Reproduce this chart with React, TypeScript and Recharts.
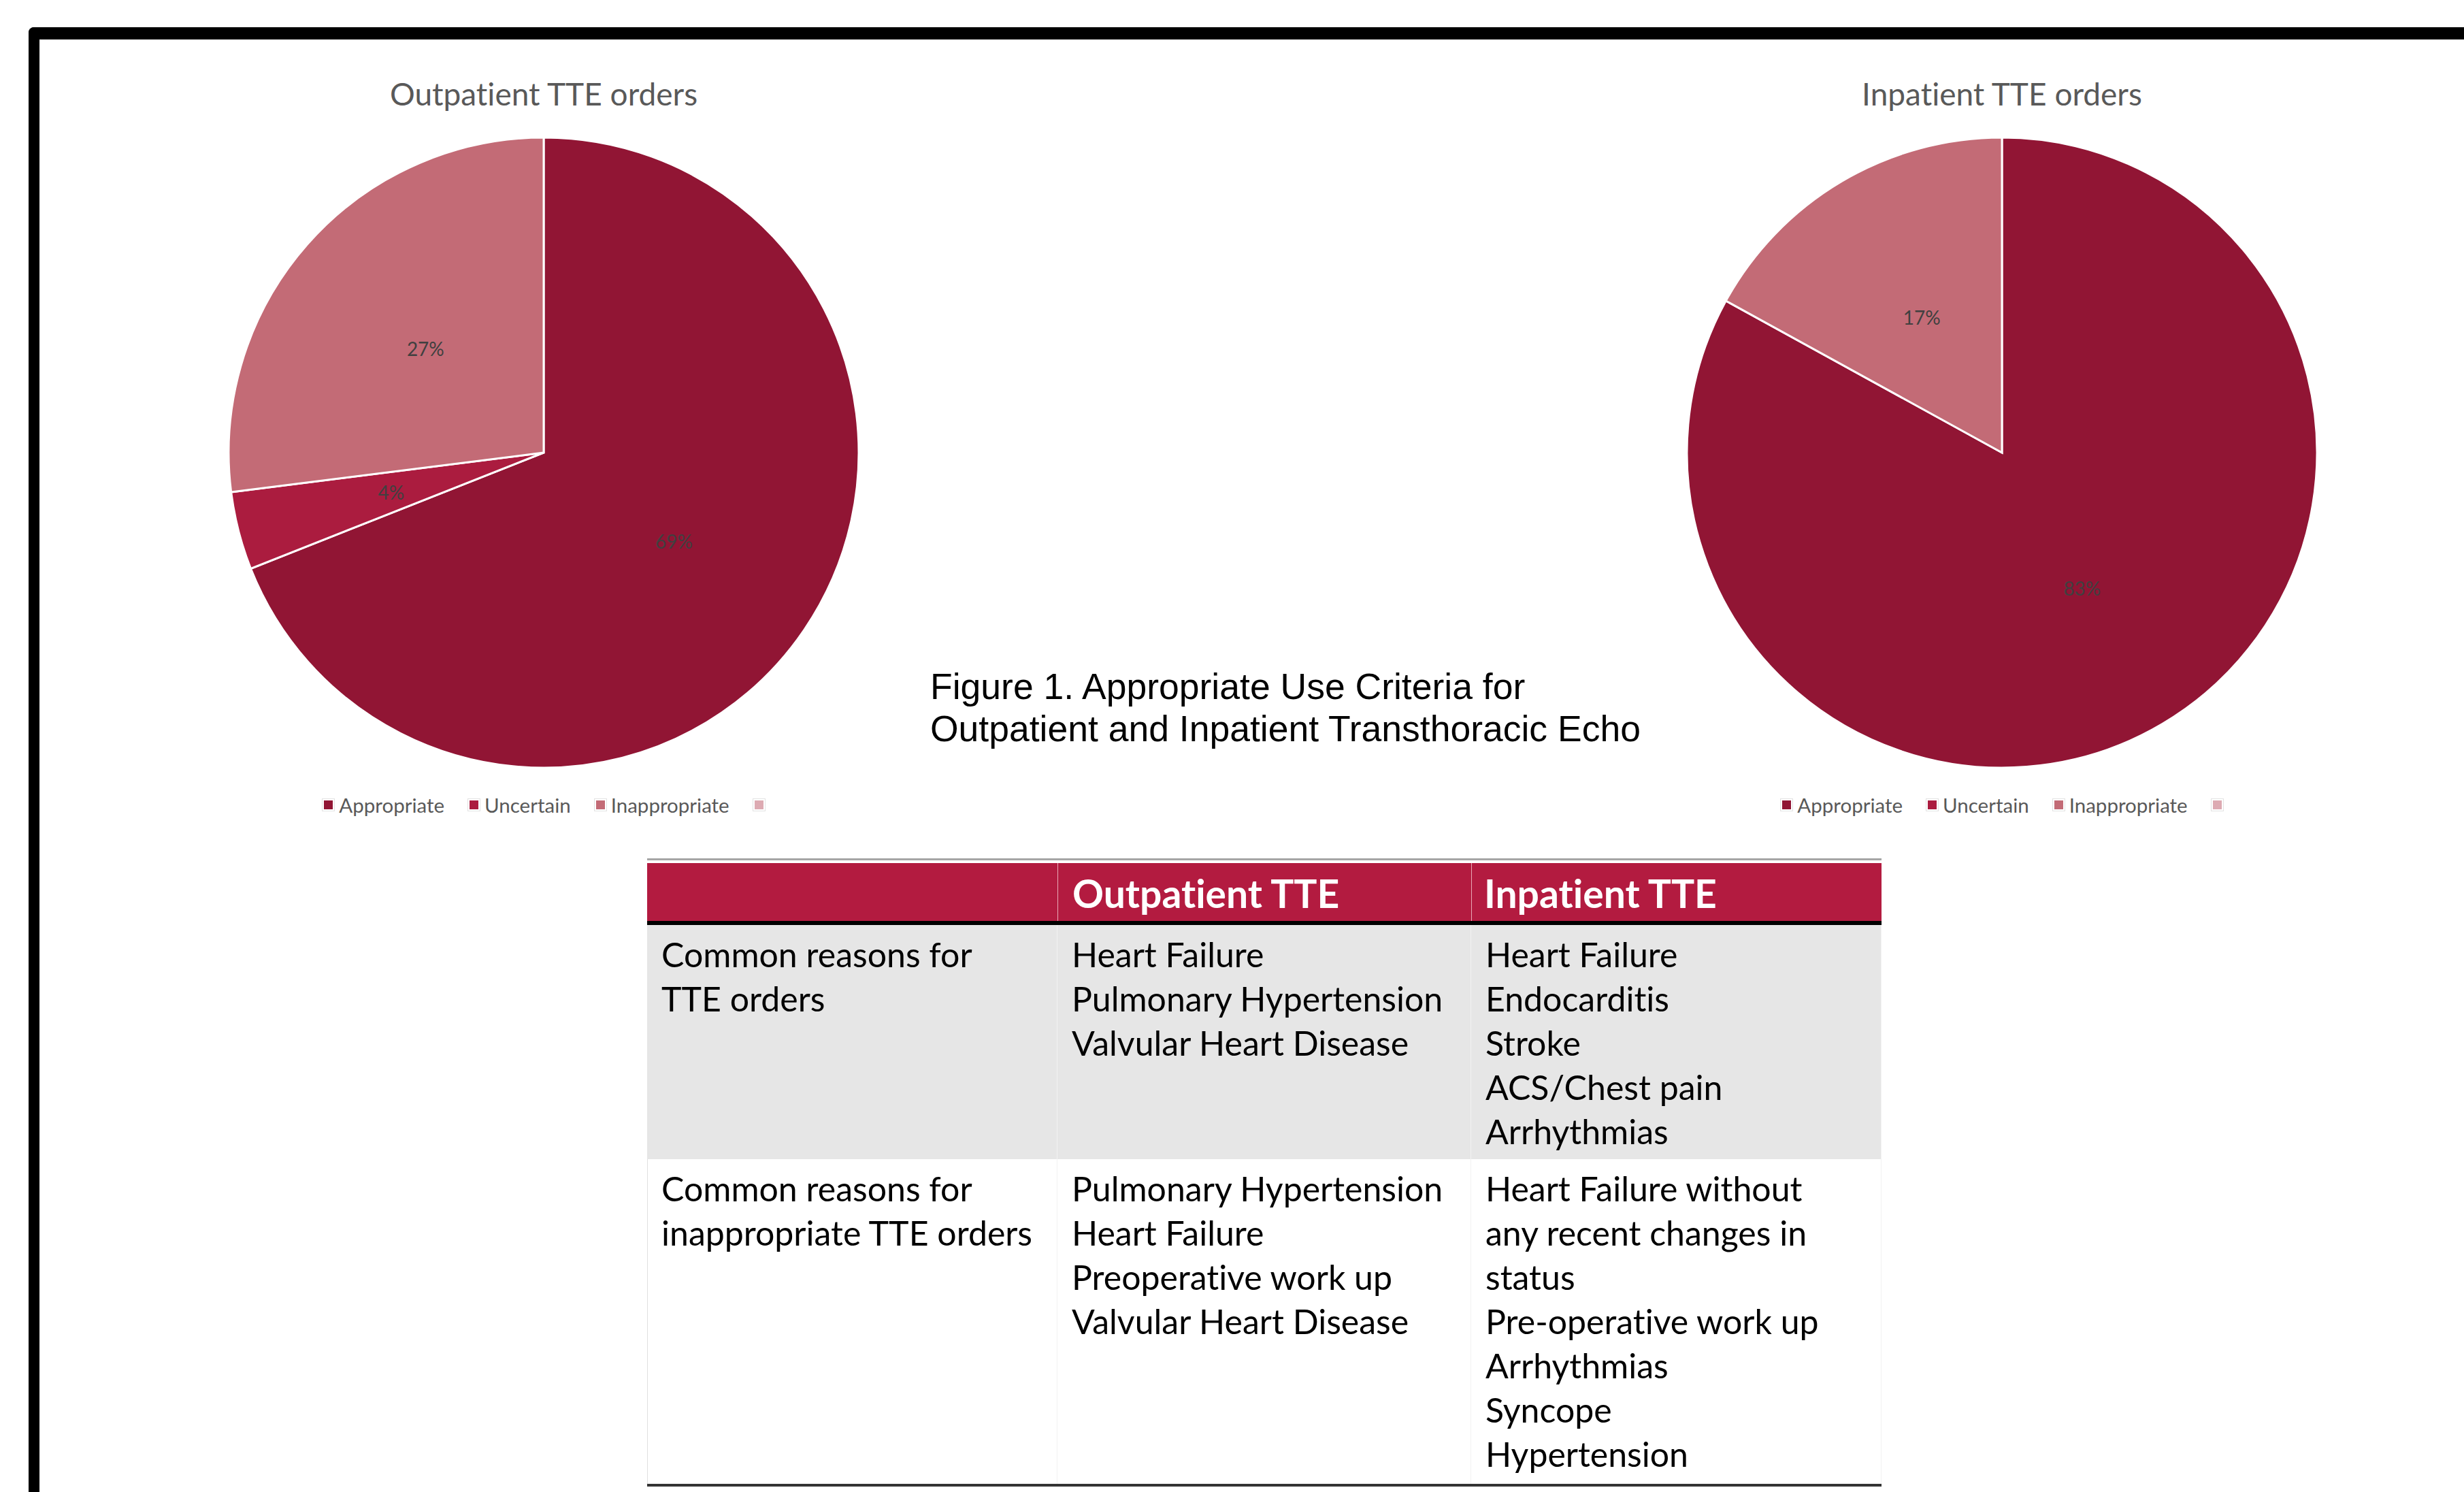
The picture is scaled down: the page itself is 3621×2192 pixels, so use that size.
import { Cell, Legend, Pie, PieChart } from "recharts";

// pie data (share of TTE orders, %)
const categories = ["Appropriate", "Uncertain", "Inappropriate", ""];
const outpatientValues = [69, 4, 27, 0];
const inpatientValues = [83, 0, 17, 0];
const sliceColors = ["#911534", "#AB1C3F", "#C36B76", "#DDAAB2"];

// table text
const headerCols = ["", "Outpatient TTE", "Inpatient TTE"];
const rowLabels = [
  ["Common reasons for", "TTE orders"],
  ["Common reasons for", "inappropriate TTE orders"],
];
const outpatientReasons = [
  ["Heart Failure", "Pulmonary Hypertension", "Valvular Heart Disease"],
  ["Pulmonary Hypertension", "Heart Failure", "Preoperative work up", "Valvular Heart Disease"],
];
const inpatientReasons = [
  ["Heart Failure", "Endocarditis", "Stroke", "ACS/Chest pain", "Arrhythmias"],
  [
    "Heart Failure without",
    "any recent changes in",
    "status",
    "Pre-operative work up",
    "Arrhythmias",
    "Syncope",
    "Hypertension",
  ],
];

const captionLines = [
  "Figure 1. Appropriate Use Criteria for",
  "Outpatient and Inpatient Transthoracic Echo",
];

const SANS = "Lato, 'Open Sans', sans-serif";
const RAD = Math.PI / 180;

function pctLabel(props: any) {
  const { cx, cy, midAngle, outerRadius, value, percent } = props;
  if (!value) return null;
  const r = outerRadius * 0.5;
  const x = cx + r * Math.cos(-midAngle * RAD);
  const y = cy + r * Math.sin(-midAngle * RAD);
  return (
    <text
      x={x}
      y={y}
      textAnchor="middle"
      dominantBaseline="central"
      fill="#404040"
      fontSize={28}
      fontFamily={SANS}
    >
      {`${Math.round(percent * 100)}%`}
    </text>
  );
}

function LegendRow() {
  return (
    <div
      style={{
        display: "flex",
        justifyContent: "center",
        alignItems: "center",
        fontFamily: SANS,
        fontSize: 29.5,
        color: "#595959",
        fontVariantLigatures: "none",
      }}
    >
      {categories.map((c, i) => (
        <span key={i} style={{ display: "flex", alignItems: "center", marginRight: i < 3 ? 34 : 0 }}>
          <span
            style={{
              width: 19,
              height: 19,
              boxSizing: "border-box",
              border: "1px solid #e2e2e2",
              background: "#fff",
              display: "inline-flex",
              alignItems: "center",
              justifyContent: "center",
              marginRight: c ? 6 : 0,
            }}
          >
            <span style={{ width: 13, height: 13, background: sliceColors[i] }} />
          </span>
          {c}
        </span>
      ))}
    </div>
  );
}

function TtePie({ title, values, left }: { title: string; values: number[]; left: number }) {
  const data = categories.map((name, i) => ({ name, value: values[i] }));
  return (
    <div style={{ position: "absolute", left, top: 0, width: 1200, height: 1250 }}>
      <div
        style={{
          position: "absolute",
          top: 108,
          left: 0,
          width: 1200,
          textAlign: "center",
          fontFamily: SANS,
          fontSize: 46,
          lineHeight: "60px",
          color: "#595959",
          fontVariantLigatures: "none",
        }}
      >
        {title}
      </div>
      <PieChart width={1200} height={1250} margin={{ top: 0, right: 0, bottom: 0, left: 0 }}>
        <Pie
          data={data}
          dataKey="value"
          nameKey="name"
          cx={600}
          cy={665}
          outerRadius={463}
          startAngle={90}
          endAngle={-270}
          stroke="#ffffff"
          strokeWidth={3}
          label={pctLabel}
          labelLine={false}
          isAnimationActive={false}
        >
          {data.map((d, i) => (
            <Cell key={i} fill={sliceColors[i]} />
          ))}
        </Pie>
        <Legend
          content={() => <LegendRow />}
          wrapperStyle={{ position: "absolute", top: 1165, left: 0, width: 1200, height: 36 }}
        />
      </PieChart>
    </div>
  );
}

const colX = [951, 1554, 2162, 2765];
const rowY = [1359, 1703, 2180];

function Cell2({ lines, x, w, y, h, bg }: { lines: string[]; x: number; w: number; y: number; h: number; bg: string }) {
  return (
    <div
      style={{
        position: "absolute",
        left: x,
        top: y,
        width: w,
        height: h,
        background: bg,
        boxSizing: "border-box",
        padding: "11px 0 0 21px",
        fontFamily: SANS,
        fontSize: 50,
        lineHeight: "65px",
        color: "#000",
        whiteSpace: "nowrap",
        fontVariantLigatures: "none",
        borderRight: "1px solid #f2f2f2",
      }}
    >
      {lines.map((l, i) => (
        <div key={i}>{l}</div>
      ))}
    </div>
  );
}

function ReasonTable() {
  const cols = [rowLabels, outpatientReasons, inpatientReasons];
  return (
    <>
      <div style={{ position: "absolute", left: colX[0], top: 1261, width: colX[3] - colX[0], height: 3, background: "#a6a6a6" }} />
      <div style={{ position: "absolute", left: colX[0], top: 1268, width: colX[3] - colX[0], height: 85, background: "#B31B40" }} />
      {headerCols.map((h, i) => (
        <div
          key={i}
          style={{
            position: "absolute",
            left: colX[i],
            top: 1268,
            width: colX[i + 1] - colX[i],
            height: 85,
            boxSizing: "border-box",
            paddingLeft: i === 2 ? 18 : 21,
            borderLeft: i > 0 ? "1px solid #e9a9b6" : "none",
            fontFamily: SANS,
            fontWeight: 700,
            fontSize: 57,
            lineHeight: "88px",
            color: "#fff",
            whiteSpace: "nowrap",
            fontVariantLigatures: "none",
          }}
        >
          {h}
        </div>
      ))}
      <div style={{ position: "absolute", left: colX[0], top: 1353, width: colX[3] - colX[0], height: 6, background: "#000" }} />
      {[0, 1].map((r) =>
        cols.map((col, c) => (
          <Cell2
            key={`${r}-${c}`}
            lines={col[r]}
            x={colX[c]}
            w={colX[c + 1] - colX[c]}
            y={rowY[r]}
            h={rowY[r + 1] - rowY[r]}
            bg={r === 0 ? "#E6E6E6" : "#ffffff"}
          />
        )),
      )}
      <div style={{ position: "absolute", left: colX[0], top: rowY[1], width: 1, height: rowY[2] - rowY[1], background: "#e0e0e0" }} />
      <div style={{ position: "absolute", left: colX[0], top: 2180, width: colX[3] - colX[0], height: 4, background: "#333" }} />
    </>
  );
}

export default function App() {
  return (
    <div
      style={{
        position: "absolute",
        left: 0,
        top: 0,
        width: 3621,
        height: 2192,
        overflow: "hidden",
        background: "#fff",
      }}
    >
      <div
        style={{
          position: "absolute",
          left: 42,
          top: 40,
          width: 3700,
          height: 2300,
          borderTop: "18px solid #000",
          borderLeft: "16px solid #000",
          borderTopLeftRadius: 8,
        }}
      />
      <TtePie title="Outpatient TTE orders" values={outpatientValues} left={199} />
      <TtePie title="Inpatient TTE orders" values={inpatientValues} left={2342} />
      <div
        style={{
          position: "absolute",
          left: 1367,
          top: 978,
          fontFamily: "'Liberation Sans', Arial, sans-serif",
          fontSize: 53.5,
          lineHeight: "62px",
          color: "#000",
          whiteSpace: "nowrap",
        }}
      >
        {captionLines.map((l, i) => (
          <div key={i}>{l}</div>
        ))}
      </div>
      <ReasonTable />
    </div>
  );
}
